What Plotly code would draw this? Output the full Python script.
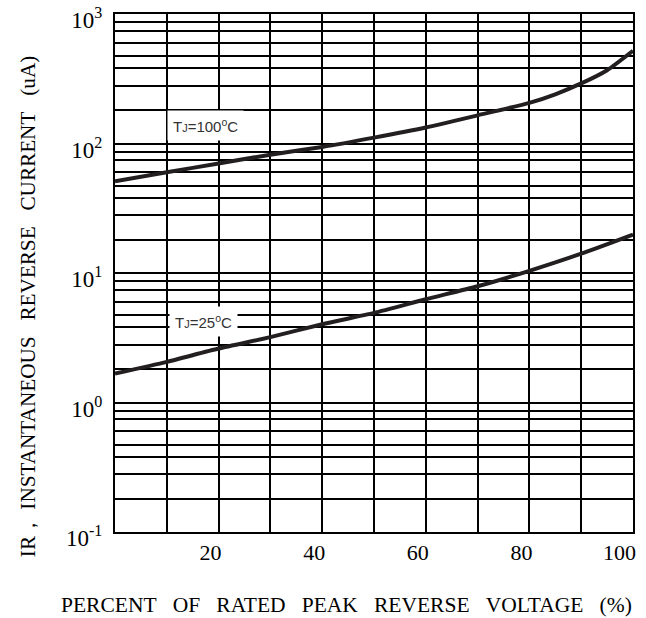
import math
import plotly.graph_objects as go

# data
pct = [0, 10, 20, 30, 40, 50, 60, 70, 80, 85, 90, 95, 100]
ir_100c = [51, 60, 70, 82, 94, 111, 133, 165, 206, 240, 291, 368, 520]
pct25 = [0, 10, 20, 30, 40, 50, 60, 70, 80, 90, 100]
ir_25c = [1.67, 2.06, 2.61, 3.2, 4.02, 4.92, 6.27, 7.9, 10.4, 14.1, 19.8]

x_tickvals = [0, 10, 20, 30, 40, 50, 60, 70, 80, 90, 100]
x_ticktext = ["", "", "20", "", "40", "", "60", "", "80", "", "100"]
y_tickvals = [0.1, 1, 10, 100, 1000]
y_ticktext = ["10<sup>-1</sup>", "10<sup>0</sup>", "10<sup>1</sup>", "10<sup>2</sup>", "10<sup>3</sup>"]
minor_factors = [1.8, 2.8, 3.8, 4.7, 6.0, 7.4, 8.6]
y_minor = [f * d for d in [0.1, 1, 10, 100] for f in minor_factors]

labels = ["T<span style='font-size:11px'>J</span>=100<sup>o</sup>C",
          "T<span style='font-size:11px'>J</span>=25<sup>o</sup>C"]
label_x = [17.5, 17.0]
label_y = [138.7, 4.19]

gap = "\u00a0\u00a0\u00a0"
x_title = gap.join(["PERCENT", "OF", "RATED", "PEAK", "REVERSE", "VOLTAGE", "(%)"])
y_title = "IR，\u00a0" + gap.join(["INSTANTANEOUS", "REVERSE", "CURRENT", "(uA)"])

serif = "Liberation Serif"
line_color = "#231f20"

fig = go.Figure()
fig.add_trace(go.Scatter(x=pct, y=ir_100c, mode="lines",
                         line=dict(color=line_color, width=4, shape="spline", smoothing=0.6),
                         showlegend=False, hoverinfo="skip"))
fig.add_trace(go.Scatter(x=pct25, y=ir_25c, mode="lines",
                         line=dict(color=line_color, width=4, shape="spline", smoothing=0.6),
                         showlegend=False, hoverinfo="skip"))

for t, xv, yv in zip(labels, label_x, label_y):
    fig.add_annotation(x=xv, y=math.log10(yv), yref="y", xref="x", text=t, showarrow=False,
                       bgcolor="white", borderpad=5,
                       font=dict(family="Liberation Sans", size=15, color="#333333"))

fig.add_annotation(xref="paper", yref="paper", x=(346 - 115) / 518, y=-0.1416,
                   text=x_title, showarrow=False, xanchor="center", yanchor="middle",
                   font=dict(family=serif, size=21.5, color="black"))
fig.add_annotation(xref="paper", yref="paper", x=-0.168, y=0.436, textangle=-90,
                   text=y_title, showarrow=False, xanchor="center", yanchor="middle",
                   font=dict(family=serif, size=21.2, color="black"))

fig.update_layout(
    width=646, height=618,
    margin=dict(l=115, r=13, t=14, b=86),
    paper_bgcolor="white", plot_bgcolor="white",
    showlegend=False,
    xaxis=dict(range=[0, 100], tickmode="array", tickvals=x_tickvals, ticktext=x_ticktext,
               showgrid=True, gridcolor="black", gridwidth=1.6, automargin=False,
               showline=True, linecolor="black", linewidth=2, mirror=True,
               ticks="", ticklabelstandoff=0, ticklabelposition="outside left",
               ticklabelshift=4, ticklabeloverflow="allow", zeroline=False,
               tickfont=dict(family=serif, size=22, color="black")),
    yaxis=dict(type="log", range=[-1, 3], tickmode="array", tickvals=y_tickvals, ticktext=y_ticktext,
               showgrid=True, gridcolor="black", gridwidth=1.6, automargin=False,
               showline=True, linecolor="black", linewidth=2, mirror=True,
               ticks="", ticklabelstandoff=6, ticklabelshift=6,
               ticklabeloverflow="allow", zeroline=False,
               tickfont=dict(family=serif, size=23, color="black"),
               minor=dict(tickmode="array", tickvals=y_minor, showgrid=True,
                          gridcolor="black", gridwidth=1.6, ticks="")),
)

fig.write_html("out.html", config={"displayModeBar": False},
               post_script="document.body.style.margin='0';document.body.style.overflow='hidden';")
